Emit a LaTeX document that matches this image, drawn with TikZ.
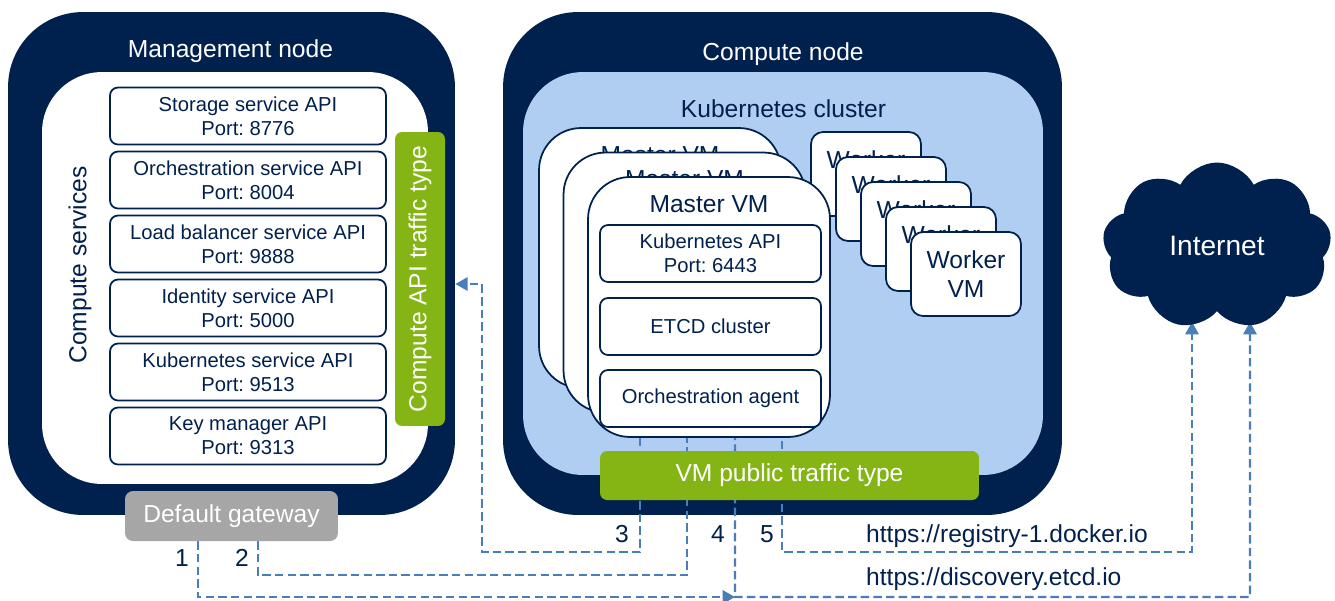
\documentclass[tikz,border=0pt]{standalone}
\usepackage{fontspec}
\setmainfont{Liberation Sans}
\usetikzlibrary{calc,arrows.meta,shapes.symbols}
\definecolor{navy}{RGB}{0,33,77}
\definecolor{sky}{RGB}{176,205,242}
\definecolor{lime}{RGB}{132,181,20}
\definecolor{ash}{RGB}{166,166,166}
\definecolor{wire}{RGB}{74,126,187}
\pgfdeclarelayer{back}
\pgfdeclarelayer{wires}
\pgfsetlayers{back,wires,main}
\frenchspacing
\tikzset{
  bigtext/.style={font=\fontsize{14}{16.4}\selectfont},
  boxtext/.style={font=\fontsize{11.5}{13.6}\selectfont},
  host/.style={fill=navy, rounded corners=1.5cm, inner sep=0pt},
  pane/.style={rounded corners=1.2cm, inner sep=0pt},
  svc/.style={boxtext, draw=navy, line width=1pt, fill=white, text=navy,
    rounded corners=0.16cm, minimum width=5.52cm, minimum height=1.14cm,
    align=center, inner sep=0pt},
  bar/.style={bigtext, fill=lime, text=white, rounded corners=0.14cm, inner sep=0pt},
  vm/.style={draw=navy, line width=1pt, fill=white, rounded corners=0.84cm,
    minimum width=4.84cm, minimum height=5.2cm, inner sep=0pt},
  worker/.style={bigtext, draw=navy, line width=1pt, fill=white, text=navy,
    rounded corners=0.24cm, minimum width=2.2cm, minimum height=1.68cm,
    align=center, inner sep=0pt},
  link/.style={wire, line width=1.4pt, dash pattern=on 4.8pt off 2.4pt},
  arrowed/.style={-{Triangle[length=7pt,width=7.5pt]}},
}
\begin{document}
\begin{tikzpicture}[x=0.02cm, y=-0.02cm]
  \useasboundingbox (0,0) rectangle (1335,600);
  % management node
  \node[host, minimum width=8.94cm, minimum height=10.06cm] (mgmt) at (231.5,263.5) {};
  \node[pane, fill=white, minimum width=7.72cm, minimum height=8.24cm] (mgmtin) at (235,278) {};
  \node[bigtext, text=white, anchor=base] (mgmtlbl) at (230.5,57) {Management node};
  \node[bigtext, text=navy, rotate=90] (svclbl) at (80,265) {Compute services};
  \foreach \name/\port [count=\i from 0] in {Storage service API/8776,
      Orchestration service API/8004, Load balancer service API/9888,
      Identity service API/5000, Kubernetes service API/9513, Key manager API/9313}
    \node[svc] (svc\i) at (248,116+64*\i) {\name\\Port: \port};
  \node[bar, rotate=90, minimum width=5.88cm, minimum height=1cm] (apibar) at (420,279) {Compute API traffic type};
  \node[bigtext, fill=ash, text=white, rounded corners=0.16cm, minimum width=4.26cm,
    minimum height=1cm, inner sep=0pt] (gw) at (231.5,516) {Default gateway};
  % compute node
  \begin{pgfonlayer}{back}
    \fill[white] (0,0) rectangle (1335,600);
    \node[host, minimum width=11.18cm, minimum height=10.06cm] (comp) at (782.5,263.5) {};
    \node[pane, fill=sky, minimum width=10.4cm, minimum height=8.06cm] (kube) at (783,273.5) {};
    \node[bigtext, text=white, anchor=base] (complbl) at (783,60) {Compute node};
    \node[bigtext, text=navy, anchor=base] (kubelbl) at (783.5,117) {Kubernetes cluster};
  \end{pgfonlayer}
  \foreach \i in {0,...,4}
    \node[worker] (wk\i) at (866+25*\i,174+25*\i) {Worker\\VM};
  \foreach \i in {0,1,2} {
    \node[vm] (vm\i) at (660+24.5*\i,258+24.5*\i) {};
    \node[bigtext, text=navy, anchor=base] (vmt\i) at ($(vm\i.north)+(0,36)$) {Master VM};
  }
  \node[svc, minimum width=4.42cm] (k8sapi) at (710.5,253.5) {Kubernetes API\\Port: 6443};
  \node[svc, minimum width=4.42cm] (etcd) at (710.5,326.5) {ETCD cluster};
  \node[svc, minimum width=4.42cm] (agent) at (710.5,398.5) {Orchestration agent};
  \node[bar, minimum width=7.58cm, minimum height=0.98cm] (vmbar) at (789.5,475.5) {VM public traffic type};
  % internet
  \node[cloud, cloud puffs=9, cloud puff arc=125, aspect=1.4, fill=navy, text=white,
    font=\fontsize{16}{19}\selectfont, minimum width=4.58cm, minimum height=3.34cm] (inet) at (1217,246) {Internet};
  % traffic
  \coordinate (b2) at (687,575);
  \coordinate (b3) at (482,552);
  \coordinate (t3) at (482,284);
  \coordinate (j4) at (735,597);
  \coordinate (i4) at (1250,322);
  \coordinate (b5) at (1192,552);
  \coordinate (i5) at (1192,322);
  \begin{pgfonlayer}{wires}
    \draw[link, arrowed] ($(gw.south)+(-33.5,0)$) |- (j4);
    \draw[link, arrowed] ($(gw.south)+(26.5,0)$) |- (b2) -- (b2 |- k8sapi.south);
    \draw[link, arrowed] ($(vm2.south)+(-69,0)$) |- (b3) -- (t3) -- (mgmt.east |- t3);
    \draw[link, arrowed] ($(etcd.south)+(24.5,0)$) -- (j4) -| (i4);
    \draw[link, arrowed] ($(agent.south)+(71.5,0)$) |- (b5) -- (i5);
  \end{pgfonlayer}
  \node[bigtext, text=navy, anchor=base] (n1) at (182,566) {1};
  \node[bigtext, text=navy, anchor=base] (n2) at (242,566) {2};
  \node[bigtext, text=navy, anchor=base] (n3) at (622,542) {3};
  \node[bigtext, text=navy, anchor=base] (n4) at (718,542) {4};
  \node[bigtext, text=navy, anchor=base] (n5) at (767,542) {5};
  \node[bigtext, text=navy, anchor=base west] (reg) at (860,542) {https://registry-1.docker.io};
  \node[bigtext, text=navy, anchor=base west] (disc) at (860,585) {https://discovery.etcd.io};
\end{tikzpicture}
\end{document}
